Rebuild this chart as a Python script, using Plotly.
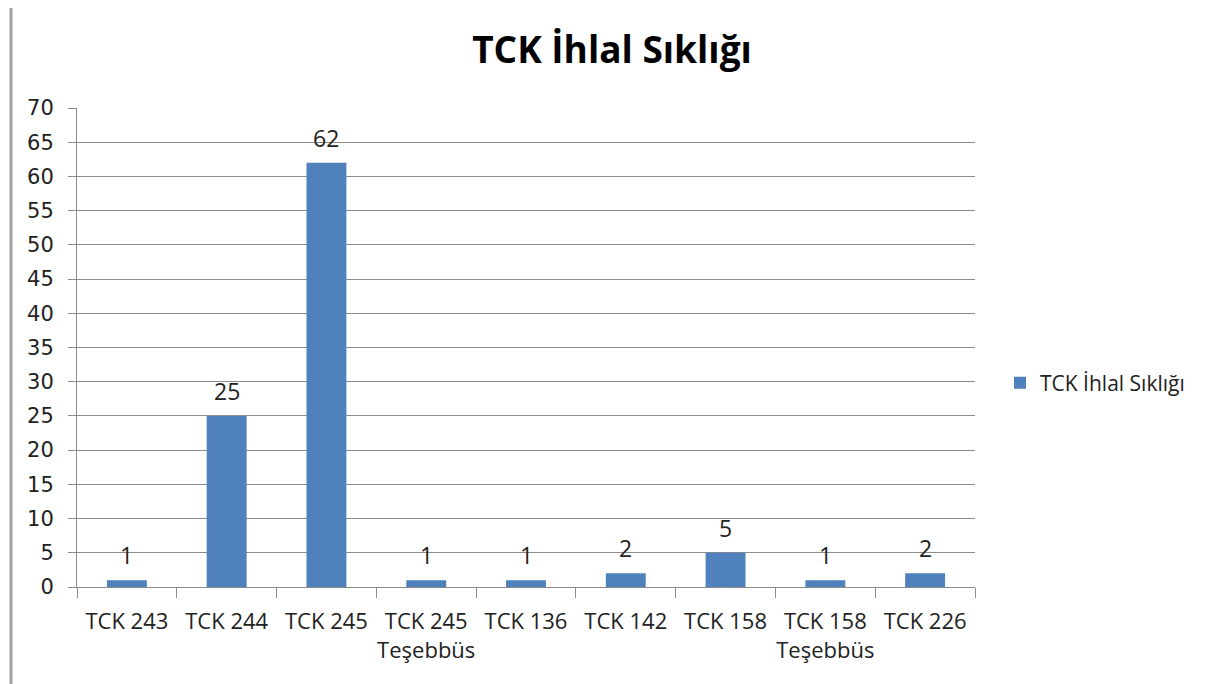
import plotly.graph_objects as go

categories = ["TCK 243", "TCK 244", "TCK 245", "TCK 245<br>Teşebbüs", "TCK 136",
              "TCK 142", "TCK 158", "TCK 158<br>Teşebbüs", "TCK 226"]
values = [1, 25, 62, 1, 1, 2, 5, 1, 2]
series_name = "TCK İhlal Sıklığı"
title_text = "TCK İhlal Sıklığı"

OFF = 8  # page body offset
W, H = 1215 - OFF, 684 - OFF
L, R, T, B = 77 - OFF, 975 - OFF, 108 - OFF, 587 - OFF

fig = go.Figure()
fig.add_trace(go.Bar(
    x=categories, y=values, name=series_name,
    marker=dict(color="#4F81BD", line=dict(width=0)),
    showlegend=True,
))

for c, v in zip(categories, values):
    fig.add_annotation(x=c, y=v, xref="x", yref="y", text=str(v), showarrow=False,
                       yanchor="bottom", yshift=7,
                       font=dict(family="Open Sans, sans-serif", size=23, color="#222"))

fig.update_layout(
    width=W, height=H,
    margin=dict(l=L, r=W - R, t=T, b=H - B, autoexpand=False),
    paper_bgcolor="white", plot_bgcolor="white",
    bargap=0.6,
    title=dict(text="<b>" + title_text + "</b>", x=(612 - OFF) / W, xanchor="center",
               y=1 - (50 - OFF) / H, yanchor="middle",
               font=dict(family="Open Sans, sans-serif", size=37, color="black")),
    showlegend=True,
    legend=dict(x=(1000 - 975) / (975 - 77) + 1, xanchor="left",
                y=(B - (383 - OFF)) / (B - T), yanchor="middle",
                font=dict(family="Open Sans, sans-serif", size=21, color="#222"),
                itemwidth=30, bgcolor="rgba(0,0,0,0)"),
    font=dict(family="Open Sans, sans-serif"),
)

fig.update_yaxes(
    range=[0, 70], dtick=5, tick0=0,
    showgrid=True, gridcolor="#8c8c8c", gridwidth=1,
    showline=True, linecolor="#8c8c8c", linewidth=1,
    ticks="outside", ticklen=8, tickcolor="#8c8c8c",
    ticklabelstandoff=10, automargin=False,
    tickfont=dict(family="DejaVu Sans, sans-serif", size=21, color="#222"),
    zeroline=False,
)
fig.update_xaxes(
    showline=True, linecolor="#8c8c8c", linewidth=1,
    ticks="outside", ticklen=10, tickcolor="#8c8c8c", tickson="boundaries",
    ticklabelstandoff=15, tickangle=0, automargin=False,
    tickfont=dict(family="Open Sans, sans-serif", size=22, color="#222"),
    showgrid=False,
)

fig.add_shape(type="line", xref="paper", yref="paper",
              x0=(11 - 77) / (975 - 77), x1=(11 - 77) / (975 - 77),
              y0=1.25, y1=-0.3,
              line=dict(color="#a0a0a0", width=3))

fig.write_html("out.html")
